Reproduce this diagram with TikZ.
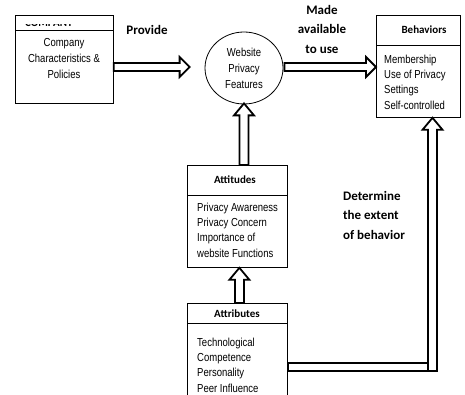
\documentclass[tikz,border=0pt]{standalone}
\usepackage{fontspec}
\setmainfont{Liberation Sans}
\newfontfamily\narrowfont{Liberation Sans}[FakeStretch=0.82]
\newfontfamily\labelfont{Carlito}
\usetikzlibrary{calc,shapes.geometric}

% hollow block arrows, built as outlined polygons
\newcommand\hollowright[2]{%
  \draw[hollow] let \p1=(#1), \p2=(#2) in
    (\x1,\y1+4pt) -- (\x2-10pt,\y1+4pt) -- (\x2-10pt,\y1+10pt) -- (\x2,\y1)
    -- (\x2-10pt,\y1-10pt) -- (\x2-10pt,\y1-4pt) -- (\x1,\y1-4pt) -- cycle;}
\newcommand\hollowup[2]{%
  \draw[hollow] let \p1=(#1), \p2=(#2) in
    (\x1-4.5pt,\y1) -- (\x1-4.5pt,\y2-12pt) -- (\x1-10pt,\y2-12pt) -- (\x1,\y2)
    -- (\x1+10pt,\y2-12pt) -- (\x1+4.5pt,\y2-12pt) -- (\x1+4.5pt,\y1) -- cycle;}

\tikzset{
  box/.style={draw, line width=0.8pt, inner sep=0pt, anchor=north west},
  hollow/.style={draw, fill=white, line width=1.8pt, line join=miter},
  body/.style={font=\narrowfont\fontsize{11.6}{15.3}\selectfont, inner sep=0pt, align=left},
  centred/.style={font=\narrowfont\fontsize{11.6}{16}\selectfont, inner sep=0pt, align=center},
  heading/.style={font=\labelfont\bfseries\fontsize{11}{12}\selectfont, inner sep=0pt},
  tag/.style={font=\labelfont\bfseries\fontsize{13}{19.5}\selectfont, inner sep=0pt, align=center},
}

\begin{document}
\begin{tikzpicture}[x=1pt, y=-1pt]
\useasboundingbox (0,0) rectangle (465,395);
\clip (0,0) rectangle (465,395);

% company box
\node[box, minimum width=98pt, minimum height=88pt] (comp) at (15,15) {};
\draw[line width=0.8pt] ($(comp.north west)+(0,15)$) -- ($(comp.north east)+(0,15)$);
\begin{scope}
  \clip (16,24.3) rectangle (112,29);
  \node[heading, anchor=base west] (comptitle) at (25,26.2) {COMPANY};
\end{scope}
\node[centred] (comptext) at (64,59) {Company\\Characteristics \&\\Policies};

% website privacy features
\node[draw, line width=0.8pt, ellipse, minimum width=78pt, minimum height=72pt, inner sep=0pt, centred] (feat) at (244,68) {Website\\Privacy\\Features};

% behaviors box
\node[box, minimum width=84pt, minimum height=102pt] (beh) at (376,15) {};
\draw[line width=0.8pt] ($(beh.north west)+(0,30)$) -- ($(beh.north east)+(0,30)$);
\node[heading] (behtitle) at (424,30) {Behaviors};
\node[body, anchor=west] (behtext) at (384,82) {Membership\\Use of Privacy\\Settings\\Self-controlled};

% attitudes box
\node[box, minimum width=100pt, minimum height=102pt] (att) at (187,165) {};
\draw[line width=0.8pt] ($(att.north west)+(0,30)$) -- ($(att.north east)+(0,30)$);
\node[heading] (atttitle) at (235,180) {Attitudes};
\node[body, anchor=west] (atttext) at (197,230) {Privacy Awareness\\Privacy Concern\\Importance of\\website Functions};

% attributes box
\node[box, minimum width=100pt, minimum height=110pt] (attr) at (187,303) {};
\draw[line width=0.8pt] ($(attr.north west)+(0,20)$) -- ($(attr.north east)+(0,20)$);
\node[heading] (attrtitle) at (237,314) {Attributes};
\node[body, anchor=west] (attrtext) at (197,365) {Technological\\Competence\\Personality\\Peer Influence};

% connector labels
\node[tag] (provide) at (147,30) {Provide};
\node[tag] (made) at (322,29) {Made\\available\\to use};
\node[tag, align=left, anchor=west] (determine) at (343,215) {Determine\\the extent\\of behavior};

% block arrows
\hollowright{$(comp.east |- feat.center)+(0,-1)$}{$(feat.west)+(-15,-1)$}
\hollowright{$(feat.east)+(1,-1)$}{$(beh.west |- feat.center)+(0,-1)$}
\hollowup{feat.south |- att.north}{$(feat.south)+(0,-1)$}
\hollowup{$(attr.north)+(2,0)$}{$(att.south)+(2,0)$}

% bent arrow from attributes to behaviors
\coordinate (bend) at (432.5,367);
\draw[hollow] let \p1=(attr.east |- bend), \p2=(bend) in
  (\x1,\y1+4pt) rectangle (\x2-4.5pt,\y1-4pt);
\hollowup{$(bend)+(0,4)$}{bend |- beh.south}
\end{tikzpicture}
\end{document}
